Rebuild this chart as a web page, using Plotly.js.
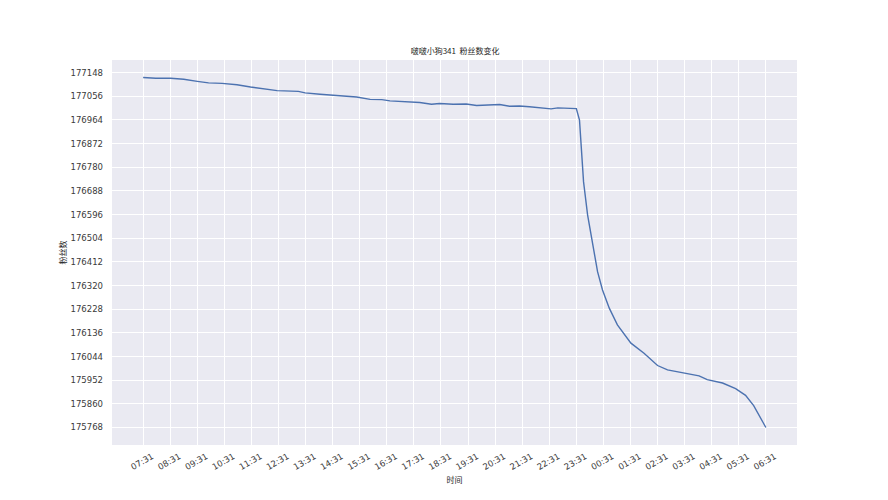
<!DOCTYPE html>
<html>
<head>
<meta charset="utf-8">
<script src="https://cdn.plot.ly/plotly-3.0.1.min.js"></script>
<style>html,body{margin:0;padding:0;background:#fff;}#chart{width:888px;height:500px;}</style>
</head>
<body>
<div id="chart"></div>
<script>
const times = [
  "2024-01-01 07:31","2024-01-01 07:59","2024-01-01 08:32","2024-01-01 09:01","2024-01-01 09:31",
  "2024-01-01 09:56","2024-01-01 10:26","2024-01-01 10:59","2024-01-01 11:29","2024-01-01 12:05",
  "2024-01-01 12:28","2024-01-01 13:15","2024-01-01 13:30","2024-01-01 14:03","2024-01-01 14:33",
  "2024-01-01 14:48","2024-01-01 15:10","2024-01-01 15:24","2024-01-01 15:54","2024-01-01 16:20",
  "2024-01-01 16:38","2024-01-01 17:07","2024-01-01 17:44","2024-01-01 18:10","2024-01-01 18:28",
  "2024-01-01 18:58","2024-01-01 19:27","2024-01-01 19:50","2024-01-01 20:12","2024-01-01 20:41",
  "2024-01-01 21:03","2024-01-01 21:25","2024-01-01 21:47","2024-01-01 22:09","2024-01-01 22:35",
  "2024-01-01 22:50","2024-01-01 23:27","2024-01-01 23:31","2024-01-01 23:38","2024-01-01 23:42",
  "2024-01-01 23:47","2024-01-01 23:56","2024-01-02 00:07","2024-01-02 00:18","2024-01-02 00:29",
  "2024-01-02 00:44","2024-01-02 01:02","2024-01-02 01:13","2024-01-02 01:32","2024-01-02 02:01",
  "2024-01-02 02:12","2024-01-02 02:31","2024-01-02 02:53","2024-01-02 03:19","2024-01-02 03:41",
  "2024-01-02 04:03","2024-01-02 04:21","2024-01-02 04:55","2024-01-02 05:24","2024-01-02 05:46",
  "2024-01-02 06:04","2024-01-02 06:31"
];
const fans = [
  177129,177126,177126,177122,177114,
  177108,177106,177101,177092,177084,
  177078,177075,177069,177064,177059,
  177057,177053,177053,177044,177043,
  177038,177035,177032,177025,177028,
  177025,177026,177020,177021,177024,
  177017,177018,177015,177012,177007,
  177011,177009,177008,176963,176866,
  176723,176594,176478,176374,176303,
  176232,176167,176141,176096,176057,
  176038,176009,175992,175983,175976,
  175969,175954,175941,175919,175893,
  175853,175768
];
const xTickVals = [
  "2024-01-01 07:31","2024-01-01 08:31","2024-01-01 09:31","2024-01-01 10:31","2024-01-01 11:31",
  "2024-01-01 12:31","2024-01-01 13:31","2024-01-01 14:31","2024-01-01 15:31","2024-01-01 16:31",
  "2024-01-01 17:31","2024-01-01 18:31","2024-01-01 19:31","2024-01-01 20:31","2024-01-01 21:31",
  "2024-01-01 22:31","2024-01-01 23:31","2024-01-02 00:31","2024-01-02 01:31","2024-01-02 02:31",
  "2024-01-02 03:31","2024-01-02 04:31","2024-01-02 05:31","2024-01-02 06:31"
];
const xTickText = ["07:31","08:31","09:31","10:31","11:31","12:31","13:31","14:31","15:31","16:31",
  "17:31","18:31","19:31","20:31","21:31","22:31","23:31","00:31","01:31","02:31","03:31","04:31","05:31","06:31"];
const yTickVals = [175768,175860,175952,176044,176136,176228,176320,176412,176504,176596,176688,176780,176872,176964,177056,177148];

const toMs = s => new Date(s.replace(" ","T")+":00Z").getTime();
const x0 = toMs(times[0]), x1 = toMs(times[times.length-1]);
const xm = (x1-x0)*0.05;
const fmt = ms => new Date(ms).toISOString().slice(0,19).replace("T"," ");
const yMin = Math.min(...fans), yMax = Math.max(...fans), ym = (yMax-yMin)*0.05;

const font = "DejaVu Sans, Noto Sans CJK SC, sans-serif";
const cjk = "Noto Sans CJK SC, DejaVu Sans, sans-serif";

Plotly.newPlot("chart", [{
  x: times, y: fans, type: "scatter", mode: "lines",
  line: {color: "#4C72B0", width: 1.4}, hoverinfo: "skip"
}], {
  width: 888, height: 500,
  margin: {l: 112, r: 91, t: 60, b: 55},
  paper_bgcolor: "#ffffff", plot_bgcolor: "#EAEAF2",
  showlegend: false,
  title: {text: "啵啵小狗341  粉丝数变化", font: {family: cjk, size: 8, color: "#262626"}, x: 0.5125, xanchor: "center", y: 0.898, yanchor: "middle"},
  xaxis: {
    type: "date", range: [fmt(x0-xm), fmt(x1+xm)],
    tickmode: "array", tickvals: xTickVals, ticktext: xTickText,
    tickangle: -30, tickfont: {family: font, size: 8.5, color: "#3a3a3a"},
    showgrid: true, gridcolor: "#ffffff", gridwidth: 1, zeroline: false, showline: false,
    ticks: "", ticklabelshift: 9, ticklabelstandoff: 4,
    title: {text: "时间", font: {family: cjk, size: 8, color: "#262626"}, standoff: 6}
  },
  yaxis: {
    range: [yMin-ym, yMax+ym],
    tickmode: "array", tickvals: yTickVals, ticktext: yTickVals.map(String),
    tickfont: {family: font, size: 8.5, color: "#3a3a3a"},
    showgrid: true, gridcolor: "#ffffff", gridwidth: 1, zeroline: false, showline: false,
    ticks: "", ticklabelstandoff: 8,
    title: {text: "粉丝数", font: {family: cjk, size: 8, color: "#262626"}, standoff: 2}
  }
}, {staticPlot: true});
</script>
</body>
</html>
